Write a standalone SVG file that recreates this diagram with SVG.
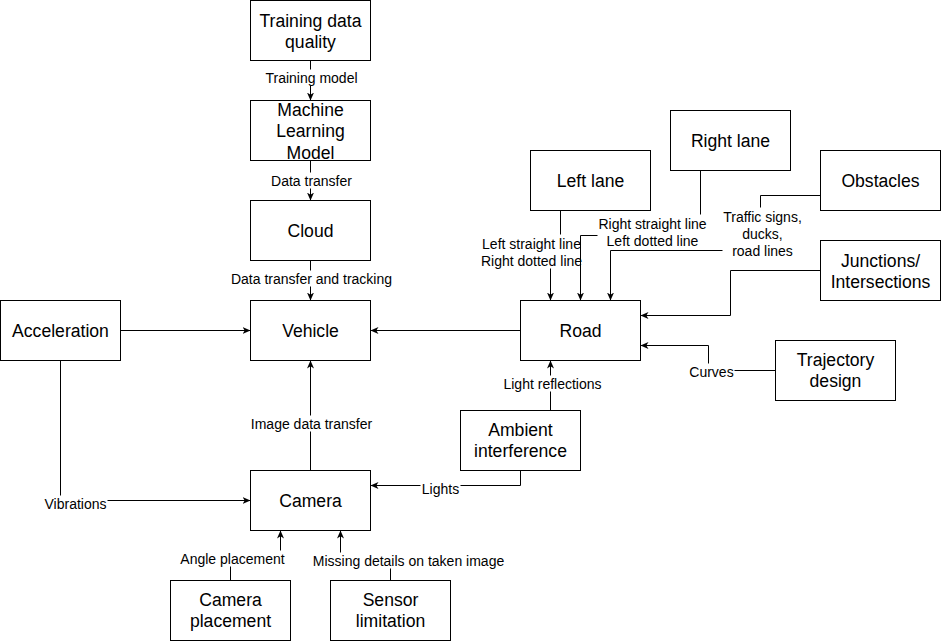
<svg xmlns="http://www.w3.org/2000/svg" width="941" height="641" viewBox="0 0 941 641">
<defs>
<style>
.box{fill:#fff;stroke:#000;stroke-width:1}
.nt{font-family:"Liberation Sans",Arial,sans-serif;font-size:17.6px;fill:#000;text-anchor:middle;dominant-baseline:central}
.lt{font-family:"Liberation Sans",Arial,sans-serif;font-size:14px;fill:#000;text-anchor:middle;dominant-baseline:central}
.ln{fill:none;stroke:#000;stroke-width:1}
.ar{marker-end:url(#arr)}
.bg{fill:#fff;stroke:none}
</style>
<marker id="arr" markerUnits="userSpaceOnUse" markerWidth="10" markerHeight="9" refX="8" refY="4" orient="auto">
<path d="M0,0.5 L8,4 L0,7.5 L2.2,4 Z" fill="#000"/>
</marker>
</defs>
<rect width="941" height="641" fill="#fff"/>
<g transform="translate(0.5,0.5)">
<g id="connectors">
<path class="ln ar" d="M310,60 V100"/>
<path class="ln ar" d="M310,160 V200"/>
<path class="ln ar" d="M310,260 V300"/>
<path class="ln ar" d="M120,330 H250"/>
<path class="ln ar" d="M520,330 H370"/>
<path class="ln ar" d="M60,360 V500 H250"/>
<path class="ln ar" d="M310,470 V360"/>
<path class="ln ar" d="M230,580 V558 H280 V530"/>
<path class="ln ar" d="M390,580 V560 H340 V530"/>
<path class="ln ar" d="M520,470 V485 H370"/>
<path class="ln ar" d="M550,410 V360"/>
<path class="ln ar" d="M560,210 V250 H550 V300"/>
<path class="ln ar" d="M700,170 V235 H580 V300"/>
<path class="ln ar" d="M820,195 H760 V250 H610 V300"/>
<path class="ln ar" d="M820,270 H730 V315 H640"/>
<path class="ln ar" d="M775,370 H708 V345 H640"/>
<g id="edge-labels">
<rect class="bg" x="264" y="69" width="94" height="16"/><text class="lt" x="311" y="77">Training model</text>
<rect class="bg" x="270" y="172" width="82" height="16"/><text class="lt" x="311" y="180">Data transfer</text>
<rect class="bg" x="230" y="270" width="162" height="16"/><text class="lt" x="311" y="278">Data transfer and tracking</text>
<rect class="bg" x="250" y="415" width="122" height="16"/><text class="lt" x="311" y="423">Image data transfer</text>
<rect class="bg" x="43" y="495" width="64" height="16"/><text class="lt" x="75" y="503">Vibrations</text>
<rect class="bg" x="420" y="480" width="40" height="16"/><text class="lt" x="440" y="488">Lights</text>
<rect class="bg" x="180" y="550" width="105" height="16"/><text class="lt" x="232" y="558">Angle placement</text>
<rect class="bg" x="312" y="552" width="193" height="16"/><text class="lt" x="408" y="560">Missing details on taken image</text>
<rect class="bg" x="502" y="375" width="100" height="16"/><text class="lt" x="552" y="383">Light reflections</text>
<rect class="bg" x="688" y="363" width="46" height="16"/><text class="lt" x="711" y="371">Curves</text>
<rect class="bg" x="480" y="234" width="98" height="34"/><text class="lt" x="531" y="243">Left straight line</text><text class="lt" x="531" y="260">Right dotted line</text>
<rect class="bg" x="597" y="214" width="110" height="34"/><text class="lt" x="652" y="223">Right straight line</text><text class="lt" x="652" y="240">Left dotted line</text>
<rect class="bg" x="722" y="207" width="80" height="51"/><text class="lt" x="762" y="216">Traffic signs,</text><text class="lt" x="762" y="233">ducks,</text><text class="lt" x="762" y="250">road lines</text>
</g>
</g>
<g id="training-data-quality"><rect class="box" x="250" y="0" width="120" height="60"/><text class="nt" x="310" y="20">Training data</text><text class="nt" x="310" y="41">quality</text></g>
<g id="machine-learning-model"><rect class="box" x="250" y="100" width="120" height="60"/><text class="nt" x="310" y="109">Machine</text><text class="nt" x="310" y="130.5">Learning</text><text class="nt" x="310" y="152">Model</text></g>
<g id="cloud"><rect class="box" x="250" y="200" width="120" height="60"/><text class="nt" x="310" y="230">Cloud</text></g>
<g id="vehicle"><rect class="box" x="250" y="300" width="120" height="60"/><text class="nt" x="310" y="330">Vehicle</text></g>
<g id="acceleration"><rect class="box" x="0" y="300" width="120" height="60"/><text class="nt" x="60" y="330">Acceleration</text></g>
<g id="road"><rect class="box" x="520" y="300" width="120" height="60"/><text class="nt" x="580" y="330">Road</text></g>
<g id="left-lane"><rect class="box" x="530" y="150" width="120" height="60"/><text class="nt" x="590" y="180">Left lane</text></g>
<g id="right-lane"><rect class="box" x="670" y="110" width="120" height="60"/><text class="nt" x="730" y="140">Right lane</text></g>
<g id="obstacles"><rect class="box" x="820" y="150" width="120" height="60"/><text class="nt" x="880" y="180">Obstacles</text></g>
<g id="junctions"><rect class="box" x="820" y="240" width="120" height="60"/><text class="nt" x="880" y="260">Junctions/</text><text class="nt" x="880" y="281">Intersections</text></g>
<g id="trajectory-design"><rect class="box" x="775" y="340" width="120" height="60"/><text class="nt" x="835" y="359.5">Trajectory</text><text class="nt" x="835" y="380.5">design</text></g>
<g id="ambient-interference"><rect class="box" x="460" y="410" width="120" height="60"/><text class="nt" x="520" y="429.5">Ambient</text><text class="nt" x="520" y="450.5">interference</text></g>
<g id="camera"><rect class="box" x="250" y="470" width="120" height="60"/><text class="nt" x="310" y="500">Camera</text></g>
<g id="camera-placement"><rect class="box" x="170" y="580" width="120" height="60"/><text class="nt" x="230" y="599.5">Camera</text><text class="nt" x="230" y="620.5">placement</text></g>
<g id="sensor-limitation"><rect class="box" x="330" y="580" width="120" height="60"/><text class="nt" x="390" y="599.5">Sensor</text><text class="nt" x="390" y="620.5">limitation</text></g>
</g>
</svg>
